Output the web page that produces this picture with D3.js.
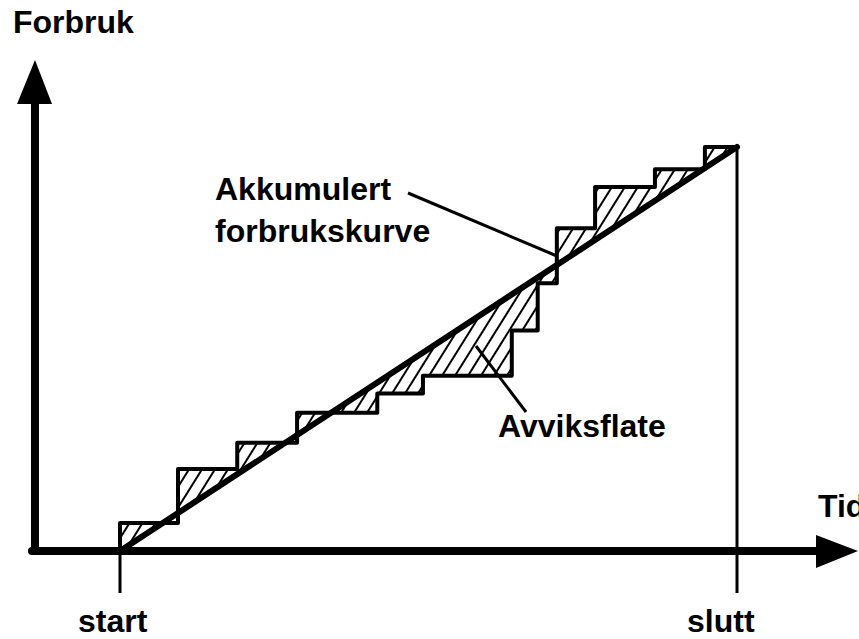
<!DOCTYPE html>
<html>
<head>
<meta charset="utf-8">
<script src="https://cdn.jsdelivr.net/npm/d3@7"></script>
<style>
  html, body { margin: 0; padding: 0; background: #fff; }
  svg { display: block; }
  text { font-family: "Liberation Sans", Arial, sans-serif; font-weight: bold; font-size: 32px; fill: #000; }
</style>
</head>
<body>
<div id="chart"></div>
<script>
// time (0 = start, 100 = slutt) where consumption jumps, and the new accumulated level
const stepTimes  = [0, 9.4, 19.0, 28.7, 41.7, 49.1, 63.5, 67.7, 70.8, 77.0, 86.7, 94.8];
const stepLevels = [6.9, 20.3, 26.8, 34.2, 39.0, 43.4, 54.6, 66.3, 79.9, 90.1, 94.5, 100];
// planned (linear) consumption from start to slutt
const planTimes  = [0, 100];
const planLevels = [0, 100];
const timeLabels = ["start", "slutt"];

function draw() {
  const width = 859;
  const height = 639;

  const svg = d3.select("#chart")
    .append("svg")
    .attr("width", width)
    .attr("height", height);

  const xScale = d3.scaleLinear().domain([0, 100]).range([120, 737]);
  const yScale = d3.scaleLinear().domain([0, 100]).range([551, 147]);

  // hatch pattern
  const defs = svg.append("defs");
  defs.append("pattern")
    .attr("id", "hatch")
    .attr("patternUnits", "userSpaceOnUse")
    .attr("width", 11)
    .attr("height", 11)
    .attr("patternTransform", "rotate(32)")
    .append("line")
    .attr("x1", 2).attr("y1", 0)
    .attr("x2", 2).attr("y2", 11)
    .attr("stroke", "#000")
    .attr("stroke-width", 2);

  // staircase points
  const steps = [[0, 0]];
  stepTimes.forEach((t, i) => {
    steps.push([t, i === 0 ? 0 : stepLevels[i - 1]]);
    steps.push([t, stepLevels[i]]);
  });
  steps.push([100, 100]);

  const plan = planTimes.map((t, i) => [t, planLevels[i]]);

  const line = d3.line()
    .x((d) => xScale(d[0]))
    .y((d) => yScale(d[1]));

  // deviation area: staircase out, plan line back
  const areaPts = steps.concat(plan.slice().reverse());
  svg.append("path")
    .attr("d", line(areaPts) + "Z")
    .attr("fill", "url(#hatch)")
    .attr("fill-rule", "evenodd")
    .attr("stroke", "none");

  // staircase (actual)
  svg.append("path")
    .attr("d", line(steps))
    .attr("fill", "none")
    .attr("stroke", "#000")
    .attr("stroke-width", 4)
    .attr("stroke-linejoin", "round");

  // plan line
  svg.append("path")
    .attr("d", line(plan))
    .attr("fill", "none")
    .attr("stroke", "#000")
    .attr("stroke-width", 6)
    .attr("stroke-linecap", "round");

  // axes
  const ox = 35, oy = 551;
  svg.append("path")
    .attr("d", `M${ox},${oy}V100`)
    .attr("stroke", "#000").attr("stroke-width", 8).attr("fill", "none");
  svg.append("path")
    .attr("d", `M${ox},${oy}H820`)
    .attr("stroke", "#000").attr("stroke-width", 8).attr("fill", "none")
    .attr("stroke-linejoin", "round");
  svg.append("path")
    .attr("d", `M${ox - 3},${oy}H${ox}`)
    .attr("stroke", "#000").attr("stroke-width", 8).attr("stroke-linecap", "round");
  svg.append("path")
    .attr("d", `M${ox},60L${ox + 17},104L${ox - 18},104Z`)
    .attr("fill", "#000");
  svg.append("path")
    .attr("d", `M858,${oy}L816,${oy - 16}L816,${oy + 17}Z`)
    .attr("fill", "#000");

  // start / slutt markers
  const ticks = [
    { t: 0, top: oy, label: timeLabels[0], dx: -42 },
    { t: 100, top: yScale(100), label: timeLabels[1], dx: -50 }
  ];
  svg.selectAll(".tick")
    .data(ticks)
    .join("line")
    .attr("class", "tick")
    .attr("x1", (d) => xScale(d.t)).attr("x2", (d) => xScale(d.t))
    .attr("y1", (d) => d.top).attr("y2", 593)
    .attr("stroke", "#000").attr("stroke-width", 3);
  svg.selectAll(".tlabel")
    .data(ticks)
    .join("text")
    .attr("class", "tlabel")
    .attr("x", (d) => xScale(d.t) + d.dx)
    .attr("y", 632)
    .text((d) => d.label);

  // axis titles
  svg.append("text").attr("x", 13).attr("y", 33).text("Forbruk");
  svg.append("text").attr("x", 818).attr("y", 517).text("Tid");

  // annotations
  svg.append("text").attr("x", 215).attr("y", 200).text("Akkumulert");
  svg.append("text").attr("x", 215).attr("y", 242).text("forbrukskurve");
  svg.append("line")
    .attr("x1", 408).attr("y1", 193)
    .attr("x2", xScale(70.8)).attr("y2", 256)
    .attr("stroke", "#000").attr("stroke-width", 3);

  svg.append("text").attr("x", 498).attr("y", 437).text("Avviksflate");
  svg.append("line")
    .attr("x1", 476).attr("y1", 346)
    .attr("x2", 526).attr("y2", 412)
    .attr("stroke", "#000").attr("stroke-width", 3);
}

document.addEventListener("DOMContentLoaded", draw);
</script>
</body>
</html>
